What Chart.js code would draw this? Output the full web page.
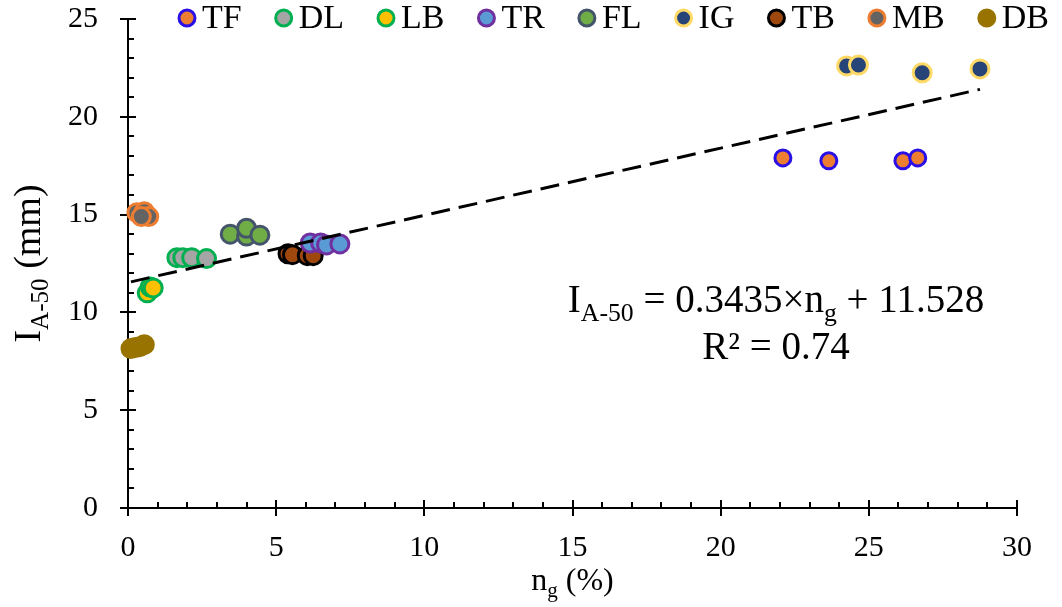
<!DOCTYPE html>
<html>
<head>
<meta charset="utf-8">
<script src="https://cdn.jsdelivr.net/npm/chart.js@4.4.0/dist/chart.umd.min.js"></script>
<style>
  html, body { margin: 0; padding: 0; background: #fff; }
  #wrap { width: 1062px; height: 607px; }
</style>
</head>
<body>
<div id="wrap"><canvas id="chart" width="1062" height="607"></canvas></div>
<script>
// Series names (legend order)
const seriesNames = ["TF", "DL", "LB", "TR", "FL", "IG", "TB", "MB", "DB"];

// n_g (%) and I_A-50 (mm) per series
const tfX = [22.1, 23.65, 26.15, 26.65];
const tfY = [17.9, 17.75, 17.75, 17.9];
const dlX = [1.65, 1.85, 2.15, 2.65];
const dlY = [12.8, 12.8, 12.8, 12.75];
const lbX = [0.65, 0.75, 0.85];
const lbY = [11.0, 11.3, 11.25];
const trX = [6.15, 6.5, 6.7, 7.15];
const trY = [13.55, 13.55, 13.45, 13.5];
const flX = [3.45, 4.0, 4.0, 4.45];
const flY = [14.0, 13.9, 14.3, 13.95];
const igX = [24.25, 24.65, 26.8, 28.75];
const igY = [22.6, 22.65, 22.25, 22.45];
const tbX = [5.4, 5.55, 6.05, 6.25];
const tbY = [13.0, 12.95, 12.9, 12.9];
const mbX = [0.3, 0.55, 0.7, 0.45];
const mbY = [15.1, 15.15, 14.9, 14.9];
const dbX = [0.1, 0.25, 0.4, 0.55];
const dbY = [8.15, 8.2, 8.25, 8.35];

// linear trend (from the equation on the chart)
const trendSlope = 0.3435;
const trendIntercept = 11.528;
const trendRange = [0.1, 28.75];

// axis ticks
const xTicks = [0, 5, 10, 15, 20, 25, 30];
const yTicks = [0, 5, 10, 15, 20, 25];

const allX = [tfX, dlX, lbX, trX, flX, igX, tbX, mbX, dbX];
const allY = [tfY, dlY, lbY, trY, flY, igY, tbY, mbY, dbY];

const fillColors = ['#ED7D31', '#A5A5A5', '#FFC000', '#5B9BD5', '#70AD47', '#264478', '#9E480E', '#636363', '#997300'];
const borderColors = ['#2A10E6', '#00B050', '#00B050', '#7030A0', '#44546A', '#FFD966', '#000000', '#ED7D31', '#997300'];

const FONT = "'Times New Roman', 'Liberation Serif', serif";
Chart.defaults.font.family = FONT;
Chart.defaults.color = '#000';

const datasets = [];
datasets.push({
  label: 'trend',
  data: trendRange.map(v => ({ x: v, y: trendSlope * v + trendIntercept })),
  showLine: true,
  borderColor: '#000',
  borderWidth: 3,
  borderDash: [19, 9],
  pointRadius: 0,
  fill: false,
  order: 0
});
seriesNames.forEach((name, i) => {
  datasets.push({
    label: name,
    data: allX[i].map((v, j) => ({ x: v, y: allY[i][j] })),
    backgroundColor: fillColors[i],
    borderColor: borderColors[i],
    pointBorderWidth: 3,
    pointRadius: name === 'TF' ? 8 : 9,
    clip: false,
    order: 1
  });
});

// helper: text with subscript parts
function drawRich(ctx, parts, cx, baseY, size) {
  let w = 0;
  parts.forEach(p => {
    ctx.font = (p.sub ? size * 0.66 : size) + 'px ' + FONT;
    w += ctx.measureText(p.t).width;
  });
  let x = cx - w / 2;
  ctx.textAlign = 'left';
  ctx.textBaseline = 'alphabetic';
  parts.forEach(p => {
    ctx.font = (p.sub ? size * 0.66 : size) + 'px ' + FONT;
    ctx.fillText(p.t, x, baseY + (p.sub ? size * 0.22 : 0));
    x += ctx.measureText(p.t).width;
  });
}

// tick marks: majors cross the axis, minors inside
const axisTicks = {
  id: 'axisTicks',
  beforeDatasetsDraw(chart) {
    const { ctx, chartArea, scales: { x, y } } = chart;
    ctx.save();
    ctx.strokeStyle = '#000';
    ctx.lineWidth = 2;
    ctx.beginPath();
    for (let v = 0; v <= 30; v++) {
      const px = Math.round(x.getPixelForValue(v));
      const major = v % 5 === 0;
      ctx.moveTo(px, chartArea.bottom + (major ? 8 : 0));
      ctx.lineTo(px, chartArea.bottom - (major ? 8 : 6));
    }
    for (let v = 0; v <= 25; v++) {
      const py = Math.round(y.getPixelForValue(v));
      const major = v % 5 === 0;
      ctx.moveTo(chartArea.left - (major ? 8 : 0), py);
      ctx.lineTo(chartArea.left + (major ? 8 : 6), py);
    }
    ctx.stroke();
    ctx.restore();
  }
};

// legend, axis titles, equation
const extras = {
  id: 'extras',
  afterDraw(chart) {
    const { ctx, chartArea } = chart;
    ctx.save();
    ctx.fillStyle = '#000';

    // legend across the top
    let lx = 187;
    const ly = 18;
    ctx.font = '34px ' + FONT;
    seriesNames.forEach((name, i) => {
      ctx.beginPath();
      ctx.arc(lx, ly, 8, 0, Math.PI * 2);
      ctx.fillStyle = fillColors[i];
      ctx.fill();
      ctx.lineWidth = 3;
      ctx.strokeStyle = borderColors[i];
      ctx.stroke();
      ctx.fillStyle = '#000';
      ctx.textAlign = 'left';
      ctx.textBaseline = 'middle';
      ctx.fillText(name, lx + 15, ly + 1);
      lx += 15 + ctx.measureText(name).width + 42;
    });

    // x title
    drawRich(ctx, [{ t: 'n' }, { t: 'g', sub: true }, { t: ' (%)' }], (chartArea.left + chartArea.right) / 2, 590, 32);

    // y title (rotated)
    ctx.save();
    ctx.translate(40, (chartArea.top + chartArea.bottom) / 2);
    ctx.rotate(-Math.PI / 2);
    drawRich(ctx, [{ t: 'I' }, { t: 'A-50', sub: true }, { t: ' (mm)' }], 0, 0, 38);
    ctx.restore();

    // regression equation
    drawRich(ctx, [
      { t: 'I' }, { t: 'A-50', sub: true }, { t: ' = ' + trendSlope + '×n' }, { t: 'g', sub: true },
      { t: ' + ' + trendIntercept }
    ], 776, 312, 39);
    drawRich(ctx, [{ t: 'R² = 0.74' }], 776, 359, 39);
    ctx.restore();
  }
};

new Chart(document.getElementById('chart'), {
  type: 'scatter',
  data: { datasets },
  options: {
    responsive: false,
    devicePixelRatio: 1,
    animation: false,
    layout: { autoPadding: false, padding: { top: 19, right: 45, left: 0, bottom: 0 } },
    plugins: {
      legend: { display: false },
      tooltip: { enabled: false }
    },
    scales: {
      x: {
        type: 'linear',
        min: 0,
        max: 30,
        afterBuildTicks: s => { s.ticks = xTicks.map(v => ({ value: v })); },
        ticks: { font: { size: 30 }, color: '#000', padding: 22 },
        grid: { display: false, drawTicks: false },
        border: { display: true, color: '#000', width: 2 },
        afterFit: s => { s.height = 99; s.paddingLeft = 0; s.paddingRight = 0; }
      },
      y: {
        type: 'linear',
        min: 0,
        max: 25,
        afterBuildTicks: s => { s.ticks = yTicks.map(v => ({ value: v })); },
        ticks: { font: { size: 30 }, color: '#000', padding: 30 },
        grid: { display: false, drawTicks: false },
        border: { display: true, color: '#000', width: 2 },
        afterFit: s => { s.width = 128; s.paddingTop = 0; s.paddingBottom = 0; }
      }
    }
  },
  plugins: [axisTicks, extras]
});
</script>
</body>
</html>
